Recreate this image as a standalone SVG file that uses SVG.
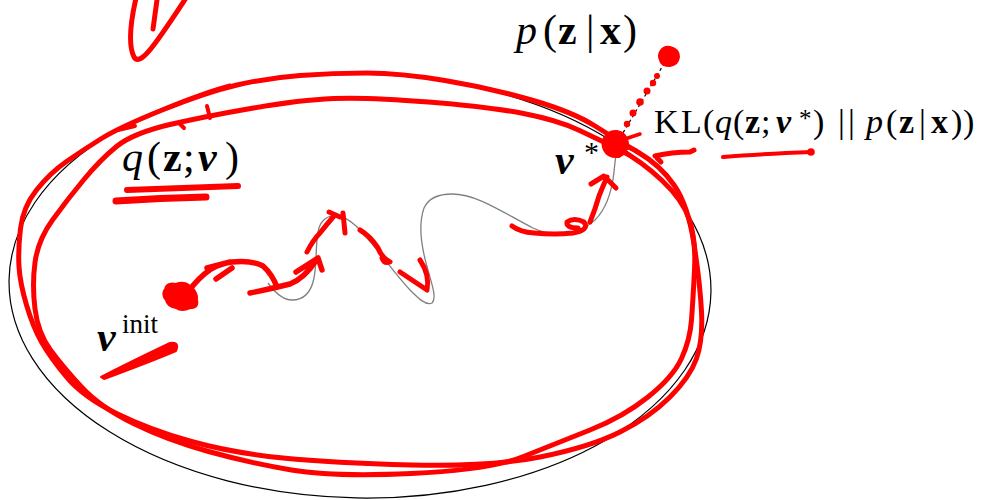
<svg xmlns="http://www.w3.org/2000/svg" width="981" height="500" viewBox="0 0 981 500">
<style>
.t{font-family:"Liberation Serif","Times New Roman",serif;fill:#000}
.it{font-style:italic}
.b{font-weight:bold}
.bi{font-weight:bold;font-style:italic}
.red{fill:none;stroke:#ff0000;stroke-linecap:round;stroke-linejoin:round}
.rf{fill:#ff0000;stroke:#ff0000;stroke-linejoin:round}
</style>
<rect width="981" height="500" fill="#fff"/>
<g id="family">
<ellipse cx="360" cy="286" rx="351" ry="212" transform="rotate(1 360 286)" fill="none" stroke="#000" stroke-width="1.2"/>
</g>
<g id="connectors">
<path id="path" d="M268,283 C276,294 283,300 292,300 C304,300 311,293 314,278 C318,258 314,232 322,222 C330,212 343,214 356,226 C372,241 393,272 410,290 C418,298 426,306 432,303 C437,298 432,285 428,270 C422,250 418,225 424,208 C429,197 440,194 452,194 C478,194 505,214 533,228 C550,236 575,238 595,220 C607,208 612,190 614,172 C615,160 617,150 617,144" fill="none" stroke="#808080" stroke-width="1.3"/>
<line id="kl-link" x1="617" y1="143" x2="668" y2="57" stroke="#000" stroke-width="1.2" stroke-dasharray="3,3"/>
</g>
<g id="label-q">
<text class="t" font-size="42" y="171"><tspan class="it" x="122">q</tspan><tspan x="147">(</tspan><tspan class="b" x="163">z</tspan><tspan x="183">;</tspan><tspan class="bi" x="198">ν</tspan><tspan x="225">)</tspan></text>
</g>
<g id="label-vinit">
<text class="t" y="351"><tspan class="bi" font-size="42" x="97">ν</tspan><tspan font-size="27" x="122" y="333">init</tspan></text>
</g>
<g id="label-vstar">
<text class="t" y="174"><tspan class="bi" font-size="42" x="555">ν</tspan><tspan font-size="30" x="584" y="162">*</tspan></text>
</g>
<g id="label-p">
<text class="t" font-size="42" y="44"><tspan class="it" x="516">p</tspan><tspan x="543">(</tspan><tspan class="b" x="558">z</tspan><tspan x="586">|</tspan><tspan class="b" x="600">x</tspan><tspan x="623">)</tspan></text>
</g>
<g id="label-kl">
<text class="t" font-size="34" y="133"><tspan x="654">K</tspan><tspan x="681">L</tspan><tspan x="703">(</tspan><tspan class="it" x="715">q</tspan><tspan x="733">(</tspan><tspan class="b" x="745">z</tspan><tspan x="761">;</tspan><tspan class="bi" x="776">ν</tspan><tspan font-size="25" x="799" y="127">*</tspan><tspan x="813" y="133">)</tspan><tspan x="838">|</tspan><tspan x="848">|</tspan><tspan class="it" x="866">p</tspan><tspan x="886">(</tspan><tspan class="b" x="899">z</tspan><tspan x="919">|</tspan><tspan class="b" x="931">x</tspan><tspan x="951">)</tspan><tspan x="963">)</tspan></text>
</g>
<g id="annotations">
<path class="red" stroke-width="5" d="M163.5,109.5 Q207,92 237,85 Q267,78 300,75.5 Q333,73 366.5,73 Q400,73 445,80.5 Q490,88 531.5,100 Q573,112 595,126 Q617,140 638.5,152.5 Q660,165 674,185 Q688,205 694,244 Q700,283 701.5,311.5 Q703,340 696.5,358.5 Q690,377 670,397 Q650,417 620,432 Q590,447 540,457 Q490,467 411.5,465 Q333,463 283,458 Q233,453 191.5,441.5 Q150,430 116.5,413.5 Q83,397 66.5,377 Q50,357 41.5,342 Q33,327 26.5,305 Q20,283 19,266.5 Q18,250 20.5,228.5 Q23,207 36.5,190 Q50,173 66.5,161.5 Q83,150 101.5,138.5 Q120,127 163.5,109.5 Q207,92 230,86"/>
<path class="red" stroke-width="5" d="M170,124.5 Q207,116 253.5,108 Q300,100 333.5,98.5 Q367,97 428.5,102 Q490,107 523.5,113.5 Q557,120 578.5,130 Q600,140 620,150 Q640,160 661.5,180 Q683,200 689.5,220 Q696,240 694.5,270 Q693,300 691.5,320 Q690,340 681.5,358.5 Q673,377 648,397 Q623,417 590,430 Q557,443 523.5,456.5 Q490,470 411.5,473.5 Q333,477 291.5,470 Q250,463 208.5,451.5 Q167,440 133.5,423.5 Q100,407 81.5,387 Q63,367 50.5,350 Q38,333 35,309 Q32,285 35,262.5 Q38,240 52.5,220 Q67,200 83.5,180 Q100,160 116.5,146.5 Q133,133 172,124"/>
<path class="red" stroke-width="4" d="M207,106 L210,118 M180,124 L184,128 M118,130 L135,126"/>
<path class="red" stroke-width="5" d="M136,-2 C131,20 128,45 134,57 C140,66 152,50 186,-2 M153,29 L157,0"/>
<path class="red" stroke-width="6" d="M127,190 L238,186"/>
<path class="red" stroke-width="7" d="M116,201 Q160,198 206,197"/>
<path class="rf" stroke-width="2" d="M101,377 Q130,362 170,343 Q180,341 176,351 Q150,362 104,379 Z"/>
<path class="rf" stroke-width="2" d="M165,289 Q167,282 176,284 Q184,281 190,286 Q198,292 197,300 Q199,308 190,308 Q182,312 176,308 Q167,306 166,300 Q161,294 165,289 Z"/>
<path class="red" stroke-width="5.5" d="M188,292 Q198,278 211,269 Q222,263 232,262 Q252,260 263,266 Q272,274 277,287 M207,268 L230,262 M216,279 L232,268"/>
<path class="red" stroke-width="5.5" d="M250,293 Q270,289 290,284 Q305,278 317,259 M296,272 L318,258 L322,270"/>
<path class="red" stroke-width="5" d="M307,252 Q313,240 320,233 Q327,224 334,216 M329,212 L340,217 M343,213 L345,233"/>
<path class="red" stroke-width="5" d="M360,230 Q370,236 378,248 Q382,258 390,262 Q384,264 382,258"/>
<path class="red" stroke-width="5" d="M400,272 L427,290 Q430,275 420,260"/>
<path class="red" stroke-width="5" d="M512,226 Q520,232 534,233 Q555,235 573,233 Q590,230 584,222 Q574,217 567,222 Q566,228 578,228 M590,222 Q595,210 599,196 Q603,186 607,177 M591,184 L604,176 L616,188"/>
<path class="rf" stroke-width="2" d="M604,138 Q608,130 617,131 Q627,133 628,143 Q628,153 619,157 Q608,158 604,150 Q601,144 604,138 Z"/>
<path class="red" stroke-width="3.5" d="M625,139 L640,134 M628,148 L636,150"/>
<circle cx="627" cy="124" r="3.2" fill="#ff0000"/>
<circle cx="633" cy="113" r="3.5" fill="#ff0000"/>
<circle cx="640" cy="102" r="3.8" fill="#ff0000"/>
<circle cx="647" cy="91" r="3.5" fill="#ff0000"/>
<circle cx="653" cy="83" r="3.2" fill="#ff0000"/>
<circle cx="657" cy="76" r="3" fill="#ff0000"/>
<path class="rf" stroke-width="2" d="M660,52 Q663,46 670,47 Q679,49 679,57 Q678,65 670,66 Q661,66 660,60 Q658,56 660,52 Z"/>
<path class="red" stroke-width="5" d="M655,156 Q672,152 690,152 L694,150 M657,158 L661,162"/>
<path class="red" stroke-width="4" d="M723,157 Q760,154 812,152"/>
<circle cx="811" cy="152" r="3.8" fill="#ff0000"/>
</g>
</svg>
